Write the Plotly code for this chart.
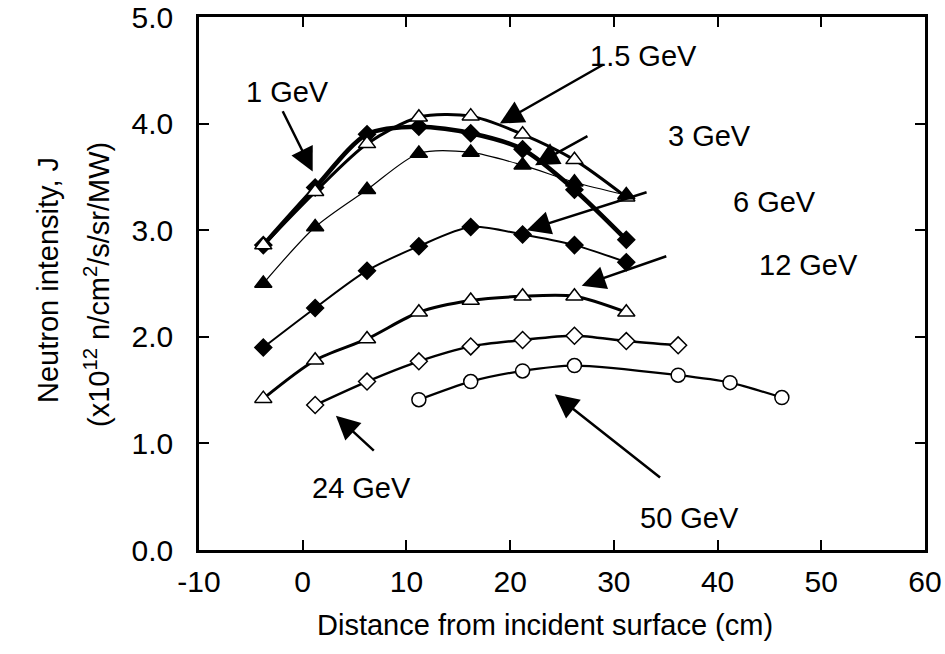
import plotly.graph_objects as go

# ---- data ----
x_1gev = [-3.8, 1.2, 6.2, 11.2, 16.2, 21.2, 26.2, 31.2]
y_1gev = [2.86, 3.40, 3.90, 3.97, 3.91, 3.76, 3.38, 2.91]

x_15gev = [-3.8, 1.2, 6.2, 11.2, 16.2, 21.2, 26.2, 31.2]
y_15gev = [2.86, 3.36, 3.81, 4.06, 4.07, 3.90, 3.66, 3.31]

x_3gev = [-3.8, 1.2, 6.2, 11.2, 16.2, 21.2, 26.2, 31.2]
y_3gev = [2.50, 3.03, 3.38, 3.72, 3.73, 3.61, 3.45, 3.33]

x_6gev = [-3.8, 1.2, 6.2, 11.2, 16.2, 21.2, 26.2, 31.2]
y_6gev = [1.90, 2.27, 2.62, 2.85, 3.03, 2.96, 2.86, 2.70]

x_12gev = [-3.8, 1.2, 6.2, 11.2, 16.2, 21.2, 26.2, 31.2]
y_12gev = [1.42, 1.78, 1.98, 2.23, 2.34, 2.38, 2.38, 2.23]

x_24gev = [1.2, 6.2, 11.2, 16.2, 21.2, 26.2, 31.2, 36.2]
y_24gev = [1.36, 1.58, 1.77, 1.91, 1.97, 2.01, 1.96, 1.92]

x_50gev = [11.2, 16.2, 21.2, 26.2, 36.2, 41.2, 46.2]
y_50gev = [1.41, 1.58, 1.68, 1.73, 1.64, 1.57, 1.43]

x_ticks = [-10, 0, 10, 20, 30, 40, 50, 60]
y_ticks = [0.0, 1.0, 2.0, 3.0, 4.0, 5.0]

# label text position, arrow tail, arrow head (data coords)
labels = ["1 GeV", "1.5 GeV", "3 GeV", "6 GeV", "12 GeV", "24 GeV", "50 GeV"]
label_x = [-1.5, 32.9, 39.2, 45.5, 48.8, 5.7, 37.3]
label_y = [4.30, 4.63, 3.88, 3.26, 2.67, 0.58, 0.30]
tail_x = [-2.0, 29.1, 27.6, 33.3, 35.2, 7.0, 34.6]
tail_y = [4.13, 4.56, 3.89, 3.36, 2.76, 0.92, 0.67]
head_x = [0.96, 19.0, 22.4, 21.6, 26.9, 3.2, 24.3]
head_y = [3.55, 4.00, 3.61, 3.00, 2.48, 1.26, 1.46]

x_title = "Distance from incident surface (cm)"
y_title_1 = "Neutron intensity, J"
y_title_2 = "(x10<sup>12</sup> n/cm<sup>2</sup>/s/sr/MW)"

FONT = "Liberation Sans, Arial, Helvetica, sans-serif"

fig = go.Figure()

def add(xs, ys, width, symbol, fill, size):
    fig.add_trace(go.Scatter(
        x=xs, y=ys, mode="lines+markers",
        line=dict(color="black", width=width, shape="spline", smoothing=0.8),
        marker=dict(symbol=symbol, size=size, color=fill,
                    line=dict(color="black", width=1.5)),
        showlegend=False, hoverinfo="skip"))

add(x_1gev, y_1gev, 4.5, "diamond", "black", 13)
add(x_15gev, y_15gev, 3, "triangle-up", "white", 15)
add(x_3gev, y_3gev, 1.2, "triangle-up", "black", 15)
add(x_6gev, y_6gev, 2, "diamond", "black", 13)
add(x_12gev, y_12gev, 3, "triangle-up", "white", 15)
add(x_24gev, y_24gev, 2.5, "diamond", "white", 13)
add(x_50gev, y_50gev, 2.2, "circle", "white", 14)

for i, lab in enumerate(labels):
    fig.add_annotation(x=label_x[i], y=label_y[i], text=lab, showarrow=False,
                       font=dict(family=FONT, size=29, color="black"),
                       xref="x", yref="y")
    fig.add_annotation(x=head_x[i], y=head_y[i], ax=tail_x[i], ay=tail_y[i],
                       axref="x", ayref="y", xref="x", yref="y", text="",
                       showarrow=True, arrowhead=2, arrowsize=1.9,
                       arrowwidth=2.5, arrowcolor="black", standoff=0)

# axis titles as annotations, positioned relative to the plot area
PW, PH = 726.0, 533.0
fig.add_annotation(x=(545 - 199) / PW, y=(550 - 625) / PH, xref="paper", yref="paper",
                   text=x_title, showarrow=False, xanchor="center", yanchor="middle",
                   font=dict(family=FONT, size=29, color="black"))
fig.add_annotation(x=(48 - 199) / PW, y=(550 - 280) / PH, xref="paper", yref="paper",
                   text=y_title_1, showarrow=False, textangle=-90,
                   xanchor="center", yanchor="middle",
                   font=dict(family=FONT, size=29, color="black"))
fig.add_annotation(x=(97 - 199) / PW, y=(550 - 285) / PH, xref="paper", yref="paper",
                   text=y_title_2, showarrow=False, textangle=-90,
                   xanchor="center", yanchor="middle",
                   font=dict(family=FONT, size=29, color="black"))

fig.update_layout(
    width=945, height=654,
    margin=dict(l=199, r=20, t=17, b=104),
    paper_bgcolor="white", plot_bgcolor="white",
    font=dict(family=FONT, size=29, color="black"),
    xaxis=dict(range=[-10, 60], tickvals=x_ticks, ticktext=[str(v) for v in x_ticks],
               ticks="inside", ticklen=10, tickwidth=1.5, tickcolor="black",
               showline=True, linecolor="black", linewidth=2.5, mirror="ticks",
               showgrid=False, zeroline=False, automargin=False,
               ticklabelstandoff=3, ticklabeloverflow="allow",
               tickfont=dict(family=FONT, size=30)),
    yaxis=dict(range=[0, 5], tickvals=y_ticks, ticktext=["%.1f" % v for v in y_ticks],
               ticks="inside", ticklen=10, tickwidth=1.5, tickcolor="black",
               showline=True, linecolor="black", linewidth=2.5, mirror="ticks",
               showgrid=False, zeroline=False, automargin=False,
               ticklabelstandoff=17, ticklabeloverflow="allow",
               tickfont=dict(family=FONT, size=30)),
)

# remove the default 8px page margin so the figure fills the window exactly
fig.write_html("out.html", config={"displayModeBar": False},
               post_script="document.body.style.margin='0px';")
